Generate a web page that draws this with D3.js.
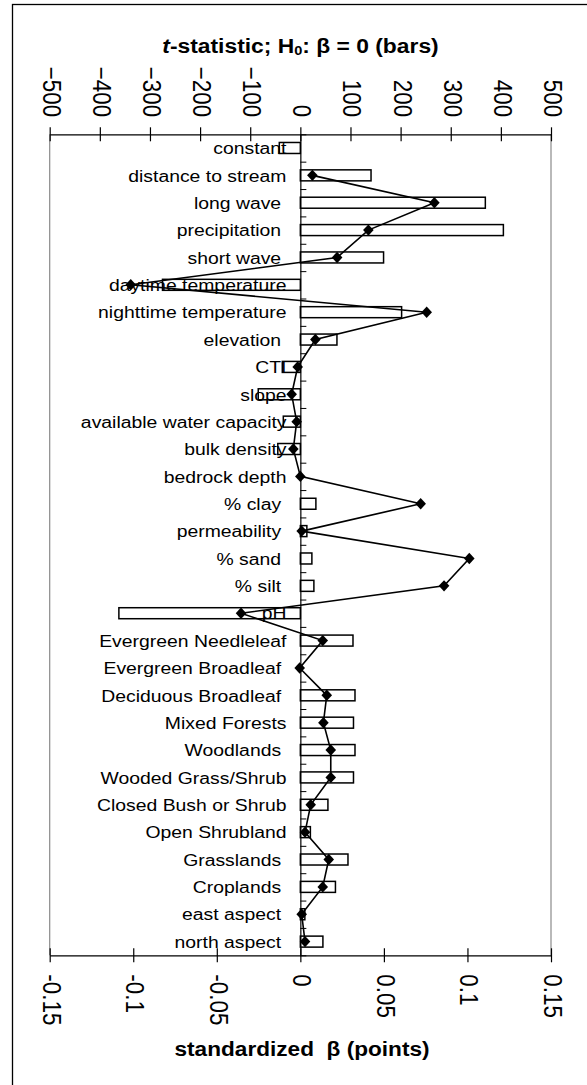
<!DOCTYPE html>
<html>
<head>
<meta charset="utf-8">
<script src="https://cdn.jsdelivr.net/npm/d3@7"></script>
<style>
  html, body { margin: 0; padding: 0; background: #fff; }
  svg { display: block; font-family: Arial, "Liberation Sans", sans-serif; }
</style>
</head>
<body>
<svg id="chart" width="587" height="1085"></svg>
<script>
// Predictor names, top to bottom
const categories = [
  "constant", "distance to stream", "long wave ", "precipitation ", "short wave ",
  "daytime temperature", "nighttime temperature", "elevation ", "CTI", "slope",
  "available water capacity", "bulk density", "bedrock depth", "% clay ", "permeability ",
  "% sand ", "% silt ", "pH", "Evergreen Needleleaf", "Evergreen Broadleaf ",
  "Deciduous Broadleaf ", "Mixed Forests", "Woodlands ", "Wooded Grass/Shrub",
  "Closed Bush or Shrub", "Open Shrubland", "Grasslands ", "Croplands ", "east aspect ",
  "north aspect "
];

// t-statistic for H0: beta = 0 (bars)
const tStatistic = [
  -42, 141, 369, 405, 166,
  -275, 202, 73, -36, -84,
  -34, -45, 0, 31, 13,
  23, 27, -362, 105, 0,
  109, 106, 109, 106,
  55, 20, 95, 70, 9,
  45
];

// standardized beta (points); the constant has no point
const standardizedBeta = [
  null, 0.0072, 0.0802, 0.0407, 0.0220,
  -0.1015, 0.0756, 0.0090, -0.0016, -0.0052,
  -0.0022, -0.0042, 0.0000, 0.0720, 0.0008,
  0.1011, 0.0860, -0.0355, 0.0134, -0.0004,
  0.0158, 0.0138, 0.0182, 0.0182,
  0.0062, 0.0028, 0.0170, 0.0134, 0.0008,
  0.0028
];

const tTicks = [-500, -400, -300, -200, -100, 0, 100, 200, 300, 400, 500];
const betaTicks = [-0.15, -0.1, -0.05, 0, 0.05, 0.1, 0.15];
const betaTickLabels = ["-0.15", "-0.1", "-0.05", "0", "0.05", "0.1", "0.15"];

const svg = d3.select("#chart");
const stretch = 1.12;   // horizontal widening applied to all text

const plot = { left: 49.7, right: 551, top: 134.3, bottom: 955.3 };

const xT = d3.scaleLinear().domain([-500, 500]).range([plot.left, plot.right]);
const xB = d3.scaleLinear().domain([-0.15, 0.15]).range([plot.left, plot.right]);
const y = d3.scaleBand().domain(categories).range([plot.top, plot.bottom]);
const yIdx = d3.scaleLinear().domain([0, categories.length]).range([plot.top, plot.bottom]);

// outer frame
svg.append("rect")
  .attr("x", 12.5).attr("y", 4.5).attr("width", 640).attr("height", 1120)
  .attr("fill", "none").attr("stroke", "#000").attr("stroke-width", 1.3);

// side borders of the plot area
svg.append("line").attr("x1", plot.left).attr("x2", plot.left)
  .attr("y1", plot.top).attr("y2", plot.bottom).attr("stroke", "#8a8a8a").attr("stroke-width", 1.2);
svg.append("line").attr("x1", plot.right).attr("x2", plot.right)
  .attr("y1", plot.top).attr("y2", plot.bottom).attr("stroke", "#8a8a8a").attr("stroke-width", 1.2);

// bars
const barH = 11;
svg.append("g").selectAll("rect")
  .data(categories.map((c, i) => ({ c, t: tStatistic[i] })))
  .join("rect")
  .attr("x", d => xT(Math.min(0, d.t)))
  .attr("width", d => Math.abs(xT(d.t) - xT(0)))
  .attr("y", d => y(d.c) + y.bandwidth() / 2 - barH / 2)
  .attr("height", barH)
  .attr("fill", "#fff").attr("stroke", "#000").attr("stroke-width", 1.5);

// category axis along zero
const catAxis = d3.axisRight(yIdx)
  .tickValues(d3.range(0, categories.length + 1))
  .tickSize(6).tickSizeOuter(0).tickFormat("");
const gCat = svg.append("g")
  .attr("transform", `translate(${xT(0)},0)`)
  .call(catAxis);
gCat.select(".domain").attr("stroke", "#000").attr("stroke-width", 1.2);
gCat.selectAll(".tick line").attr("stroke", "#000").attr("stroke-width", 1);

// category labels
svg.append("g").selectAll("text")
  .data(categories)
  .join("text")
  .attr("transform", d => `translate(286.5,${y(d) + y.bandwidth() / 2}) scale(${stretch},1)`)
  .attr("dy", "0.36em")
  .attr("text-anchor", "end")
  .attr("font-size", 17.3)
  .attr("fill", "#000")
  .style("white-space", "pre")
  .text(d => d);

// beta line with diamond markers
const pts = categories.map((c, i) => ({ c, b: standardizedBeta[i] })).filter(d => d.b !== null);
const line = d3.line()
  .x(d => xB(d.b))
  .y(d => y(d.c) + y.bandwidth() / 2);
svg.append("path")
  .datum(pts)
  .attr("d", line)
  .attr("fill", "none").attr("stroke", "#000").attr("stroke-width", 1.6);

const diamondType = {
  draw(ctx) {
    const w = 5.3, h = 5.7;
    ctx.moveTo(0, -h); ctx.lineTo(w, 0); ctx.lineTo(0, h); ctx.lineTo(-w, 0); ctx.closePath();
  }
};
svg.append("g").selectAll("path")
  .data(pts)
  .join("path")
  .attr("transform", d => `translate(${xB(d.b)},${y(d.c) + y.bandwidth() / 2})`)
  .attr("d", d3.symbol().type(diamondType)())
  .attr("fill", "#000");

// top axis: t-statistic
const topAxis = d3.axisTop(xT).tickValues(tTicks).tickSizeOuter(0).tickFormat(d3.format("d"));
const gTop = svg.append("g").attr("transform", `translate(0,${plot.top})`).call(topAxis);
gTop.select(".domain").attr("stroke", "#000").attr("stroke-width", 1.3);
gTop.selectAll(".tick line").attr("y1", -7).attr("y2", 7).attr("stroke", "#000").attr("stroke-width", 1.2);
gTop.selectAll(".tick text")
  .attr("x", null).attr("y", null).attr("dy", "0.3em")
  .attr("text-anchor", "end")
  .attr("transform", `translate(0,-17) scale(${stretch},1) rotate(90)`)
  .attr("font-size", 22.5).attr("font-family", null).attr("fill", "#000");

// bottom axis: standardized beta
const botAxis = d3.axisBottom(xB).tickValues(betaTicks).tickSizeOuter(0)
  .tickFormat((d, i) => betaTickLabels[i]);
const gBot = svg.append("g").attr("transform", `translate(0,${plot.bottom})`).call(botAxis);
gBot.select(".domain").attr("stroke", "#000").attr("stroke-width", 1.3);
gBot.selectAll(".tick line").attr("y1", -7).attr("y2", 7).attr("stroke", "#000").attr("stroke-width", 1.2);
gBot.selectAll(".tick text")
  .attr("x", null).attr("y", null).attr("dy", "0.3em")
  .attr("text-anchor", "start")
  .attr("transform", `translate(0,19) scale(${stretch},1) rotate(90)`)
  .attr("font-size", 22.5).attr("font-family", null).attr("fill", "#000");

// axis titles
const topTitle = svg.append("text")
  .attr("transform", `translate(300.5,53) scale(${stretch},1)`)
  .attr("text-anchor", "middle").attr("font-size", 20.4).attr("font-weight", "bold");
topTitle.append("tspan").attr("font-style", "italic").text("t");
topTitle.append("tspan").text("-statistic; H");
topTitle.append("tspan").attr("font-size", 13).attr("dy", 2).text("0");
topTitle.append("tspan").attr("dy", -2).text(": \u03B2 = 0 (bars)");

svg.append("text")
  .attr("transform", `translate(302,1056) scale(${stretch},1)`)
  .attr("text-anchor", "middle").attr("font-size", 20.2).attr("font-weight", "bold")
  .style("white-space", "pre")
  .text("standardized  \u03B2 (points)");
</script>
</body>
</html>
